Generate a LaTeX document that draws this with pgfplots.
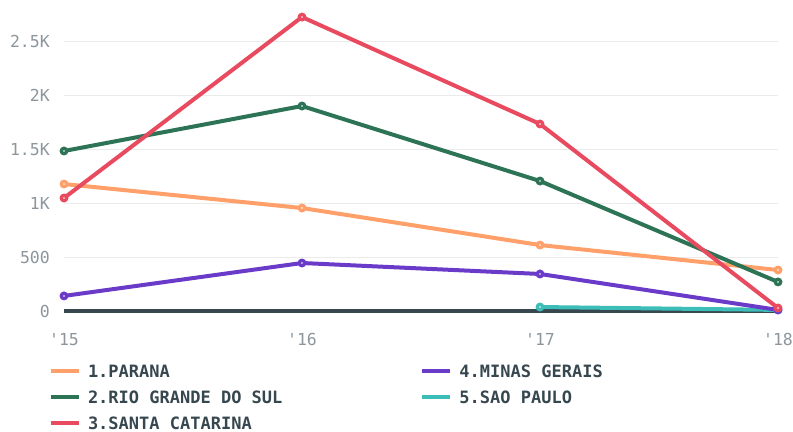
\documentclass[border=0pt]{standalone}
\usepackage{fontspec}
\setmonofont{DejaVu Sans Mono}
\usepackage{pgfplots}
\pgfplotsset{compat=1.18}
\definecolor{cPar}{HTML}{FFA06A}
\definecolor{cRgs}{HTML}{2D7356}
\definecolor{cSc}{HTML}{E84A5F}
\definecolor{cMg}{HTML}{6A3BC8}
\definecolor{cSp}{HTML}{3DBDB8}
\definecolor{zeroc}{HTML}{37474F}
\definecolor{tickc}{HTML}{8C969C}
\definecolor{legc}{HTML}{37474F}
\definecolor{gridc}{HTML}{EBEBEB}
\pgfdeclareplotmark{dotc}{%
  \pgfpathcircle{\pgfpointorigin}{\pgfplotmarksize}\pgfusepathqfill
  \pgfscope
  \pgfsetfillcolor{white}%
  \pgfpathcircle{\pgfpointorigin}{0.9bp}\pgfusepathqfill
  \endpgfscope}
\pgfplotsset{
  mylegimg/.style={legend image code/.code={\draw[##1,line width=4bp] (0bp,0bp) -- (28bp,0bp);}},
  ser/.style={color=#1, line width=4bp, mark=dotc, mark size=4.5bp, mark options={fill=#1, draw=none}, forget plot},
}
\begin{document}
\ttfamily\fontsize{16.5bp}{20bp}\selectfont
\begin{tikzpicture}
\path[use as bounding box] (0,0) rectangle (793bp,432bp);
\begin{axis}[
  at={(64bp,121bp)}, anchor=south west,
  scale only axis, width=714bp, height=295.9bp,
  xmin=0, xmax=3, ymin=0, ymax=2750,
  clip=false,
  axis line style={draw=none},
  major tick length=0pt,
  xtick={0,1,2,3}, xticklabels={'15,'16,'17,'18},
  ytick={0,500,1000,1500,2000,2500},
  yticklabels={0,500,1K,1.5K,2K,2.5K},
  ymajorgrids, grid style={color=gridc, line width=1bp},
  /pgf/number format/assume math mode=true,
  yticklabel style={anchor=base east, inner sep=0pt, xshift=-14bp, yshift=-6bp, text=tickc},
  xticklabel style={anchor=base, inner sep=0pt, yshift=-34bp, text=tickc},
  mylegimg,
  legend columns=2,
  legend cell align=left,
  legend style={at={(axis description cs:0,0)}, anchor=north west, xshift=-15bp, yshift=-54bp,
    draw=none, fill=none, inner sep=0pt, outer sep=0pt, row sep=14bp, column sep=7bp,
    /tikz/column 2/.style={column sep=138bp},
    nodes={inner sep=0pt, text height=12bp, text depth=0pt, text=legc, font=\bfseries\fontsize{17bp}{20bp}\selectfont}},
]
\addplot[forget plot, color=zeroc, line width=3bp] coordinates {(0,0) (3,0)};
\addplot[ser=cSp] coordinates {(2,37) (3,10)};
\addplot[ser=cMg] coordinates {(0,140) (1,446) (2,344) (3,10)};
\addplot[ser=cPar] coordinates {(0,1180) (1,957) (2,613) (3,381)};
\addplot[ser=cRgs] coordinates {(0,1487) (1,1905) (2,1208) (3,270)};
\addplot[ser=cSc] coordinates {(0,1050) (1,2732) (2,1738) (3,28)};
\addlegendimage{color=cPar}\addlegendentry{1.PARANA}
\addlegendimage{color=cMg}\addlegendentry{4.MINAS GERAIS}
\addlegendimage{color=cRgs}\addlegendentry{2.RIO GRANDE DO SUL}
\addlegendimage{color=cSp}\addlegendentry{5.SAO PAULO}
\addlegendimage{color=cSc}\addlegendentry{3.SANTA CATARINA}
\end{axis}
\end{tikzpicture}
\end{document}
